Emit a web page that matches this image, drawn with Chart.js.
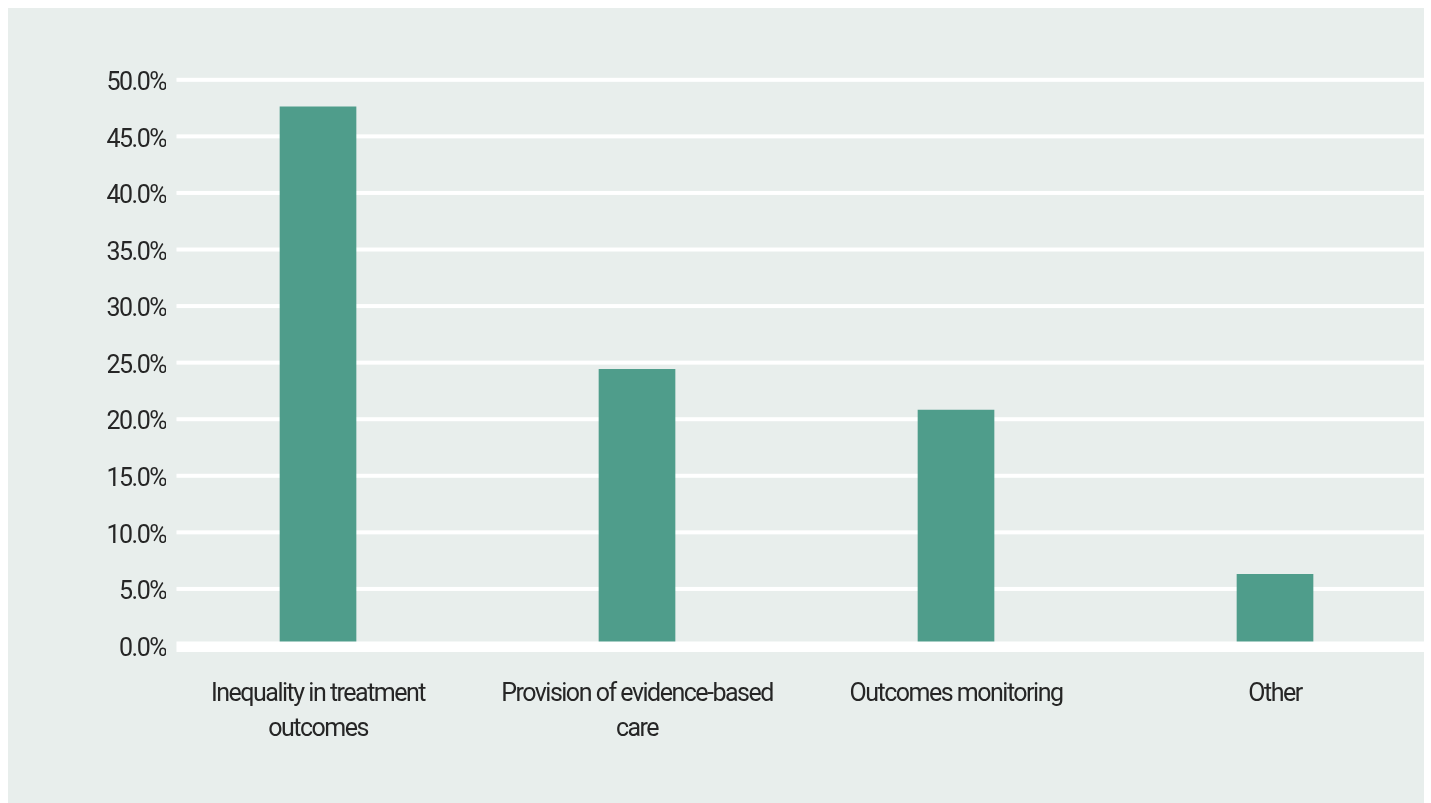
<!DOCTYPE html>
<html>
<head>
<meta charset="utf-8">
<title>Challenges</title>
<script src="https://cdn.jsdelivr.net/npm/chart.js@4.4.1/dist/chart.umd.min.js"></script>
<style>
  html, body { margin: 0; padding: 0; background: #fff; overflow: hidden; }
  .panel { position: absolute; left: 8px; top: 8px; width: 1416px; height: 795px; background: #e8eeec; overflow: hidden; }
  .panel canvas { position: absolute; left: -8px; top: -8px; }
</style>
</head>
<body>
<div class="panel"><canvas id="myChart" width="1431" height="803"></canvas></div>
<script>
const categories = [
  ["Inequality in treatment", "outcomes"],
  ["Provision of evidence-based", "care"],
  "Outcomes monitoring",
  "Other"
];
const shares = [47.6, 24.4, 20.8, 6.3];
const yMax = 50;
const yStep = 5;

const textColor = '#262626';
const fontFamily = 'Roboto, sans-serif';

// tight tracking for all canvas text
const tracking = {
  id: 'tracking',
  beforeUpdate(chart) { chart.ctx.letterSpacing = '-1.5px'; },
  beforeDraw(chart) { chart.ctx.letterSpacing = '-1.5px'; }
};

// white horizontal rules, starting a bit right of the plot edge
const rules = {
  id: 'rules',
  beforeDatasetsDraw(chart) {
    const { ctx, chartArea, scales: { y } } = chart;
    ctx.save();
    ctx.fillStyle = '#ffffff';
    y.ticks.forEach(t => {
      if (t.value === 0) return;
      const py = y.getPixelForValue(t.value);
      ctx.fillRect(chartArea.left + 10.5, py - 2, chart.width, 4);
    });
    ctx.restore();
  },
  afterDatasetsDraw(chart) {
    const { ctx, chartArea, scales: { y } } = chart;
    const py = y.getPixelForValue(0);
    ctx.save();
    ctx.fillStyle = '#ffffff';
    ctx.fillRect(chartArea.left + 10.5, py - 4, chart.width, 10.5);
    ctx.restore();
  }
};

new Chart(document.getElementById('myChart'), {
  type: 'bar',
  data: {
    datasets: [{
      data: shares.map((v, i) => ({ x: i, y: v })),
      backgroundColor: '#4f9d8b',
      barThickness: 76
    }]
  },
  options: {
    responsive: false,
    animation: false,
    layout: { padding: { top: 79.8, right: 0, bottom: 0, left: 0 } },
    plugins: {
      legend: { display: false },
      tooltip: { enabled: false }
    },
    scales: {
      x: {
        type: 'linear',
        offset: false,
        min: -0.4765,
        max: 3.489,
        grid: { display: false, drawTicks: false, offset: false },
        border: { display: false },
        afterFit(scale) { scale.height = 157.5; },
        afterBuildTicks(scale) { scale.ticks = categories.map((c, i) => ({ value: i })); },
        ticks: {
          color: textColor,
          font: { family: fontFamily, size: 25, lineHeight: 1.4 },
          padding: 32,
          maxRotation: 0,
          autoSkip: false,
          callback: v => categories[v]
        }
      },
      y: {
        min: 0,
        max: yMax,
        grid: { display: false, drawTicks: false },
        border: { display: false },
        afterFit(scale) { scale.width = 166; },
        ticks: {
          stepSize: yStep,
          color: textColor,
          font: { family: fontFamily, size: 25 },
          padding: 0,
          labelOffset: 4,
          callback: v => v.toFixed(1) + '%'
        }
      }
    }
  },
  plugins: [tracking, rules]
});
</script>
</body>
</html>
